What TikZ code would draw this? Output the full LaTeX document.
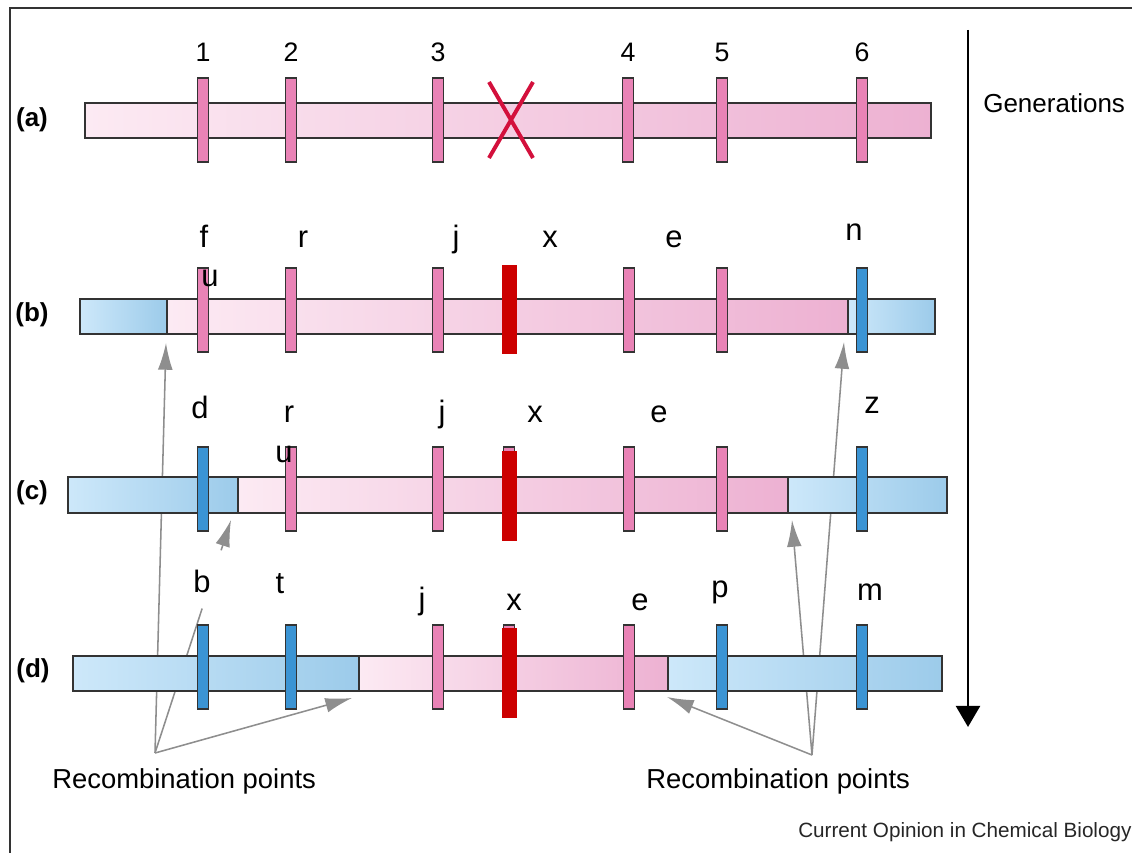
\documentclass[tikz,border=0pt]{standalone}
\usepackage{fontspec}
\setmainfont{Liberation Sans}
\usepackage{xcolor}
\usetikzlibrary{arrows.meta,calc}

\definecolor{pinklt}{HTML}{FCEAF3}
\definecolor{pinkdk}{HTML}{EDB1D2}
\definecolor{bluelt}{HTML}{CDE8FA}
\definecolor{bluedk}{HTML}{9CCBEA}
\definecolor{mkpink}{HTML}{E983B6}
\definecolor{mkblue}{HTML}{3B94D4}
\definecolor{xred}{HTML}{CC0000}
\definecolor{crossred}{HTML}{D3103C}
\definecolor{recgray}{HTML}{8E8E8E}

\tikzstyle{pinkbar}  =[draw=black!80, line width=1pt, left color=pinklt, right color=pinkdk]
\tikzstyle{bluebar}  =[draw=black!80, line width=1pt, left color=bluelt, right color=bluedk]
\tikzstyle{pinkmark} =[draw=black!80, line width=0.9pt, fill=mkpink]
\tikzstyle{bluemark} =[draw=black!80, line width=0.9pt, fill=mkblue]
\tikzstyle{locus}    =[anchor=base, inner sep=0pt, font=\fontsize{22}{22}\selectfont]
\tikzstyle{siteno}   =[anchor=base, inner sep=0pt, font=\fontsize{19}{19}\selectfont]
\tikzstyle{rowlab}   =[inner sep=0pt, font=\fontsize{18.5}{18.5}\selectfont\bfseries]
\tikzstyle{caption}  =[anchor=base west, inner sep=0pt, font=\fontsize{19.5}{19.5}\selectfont]
\tikzstyle{recline}  =[draw=recgray, line width=1.1pt]
\tikzstyle{rec}      =[recline, -{Latex[length=19pt,width=10.5pt]}]

\begin{document}
\begin{tikzpicture}[x=0.025cm, y=-0.025cm]

  \useasboundingbox (0,0) rectangle (1132,853);

  % ── frame ──────────────────────────────────────────────────────────────────
  \draw[line width=1.4pt, black!80] (1132,8) -- (10,8) -- (10,853);

  % ── recombination pointers (drawn first, bars hide them) ───────────────────
  \coordinate (lapex) at (155,753);
  \coordinate (lb)    at (166,343);
  \coordinate (lc)    at (231,520);
  \coordinate (ld)    at (352,698);
  \coordinate (rapex) at (812,755);
  \coordinate (rb)    at (844,342);
  \coordinate (rc)    at (792,520);
  \coordinate (rd)    at (667,697);

  \draw[rec] (lapex) -- (lb);
  \draw[recline] (lapex) -- ($(lapex)!0.62!(lc)$);
  \draw[rec] ($(lapex)!0.87!(lc)$) -- (lc);
  \draw[rec] (lapex) -- (ld);
  \draw[rec] (rapex) -- (rb);
  \draw[rec] (rapex) -- (rc);
  \draw[rec] (rapex) -- (rd);

  % ── (a) ancestral chromosome ───────────────────────────────────────────────
  \draw[pinkbar] (85,103) rectangle (931,138);
  \foreach \px/\no in {203/1, 291/2, 438/3, 628/4, 722/5, 862/6} {
    \draw[pinkmark] (\px-5.8,78) rectangle (\px+5.8,162);
    \node[siteno] (site\no) at (\px,62) {\no};
  }
  \draw[crossred, line width=2.8pt] (489,82) -- (533,158) (533,82) -- (489,158);

  % ── (b) ────────────────────────────────────────────────────────────────────
  \draw[bluebar] (80,299) rectangle (167,334);
  \draw[pinkbar] (167,299) rectangle (848,334);
  \draw[bluebar] (848,299) rectangle (935,334);
  \foreach \px/\st in {203/pinkmark, 291/pinkmark, 438/pinkmark, 509/pinkmark,
                       629/pinkmark, 722/pinkmark, 862/bluemark}
    \draw[\st] (\px-5.8,268) rectangle (\px+5.8,352);
  \fill[xred] (502,265) rectangle (517,354);

  % ── (c) ────────────────────────────────────────────────────────────────────
  \draw[bluebar] (68,477) rectangle (238,513);
  \draw[pinkbar] (238,477) rectangle (788,513);
  \draw[bluebar] (788,477) rectangle (947,513);
  \foreach \px/\st in {203/bluemark, 291/pinkmark, 438/pinkmark, 509/pinkmark,
                       629/pinkmark, 722/pinkmark, 862/bluemark}
    \draw[\st] (\px-5.8,447) rectangle (\px+5.8,531);
  \fill[xred] (502,451) rectangle (517,541);

  % ── (d) ────────────────────────────────────────────────────────────────────
  \draw[bluebar] (73,656) rectangle (359,691);
  \draw[pinkbar] (359,656) rectangle (668,691);
  \draw[bluebar] (668,656) rectangle (942,691);
  \foreach \px/\st in {203/bluemark, 291/bluemark, 438/pinkmark, 509/pinkmark,
                       629/pinkmark, 722/bluemark, 862/bluemark}
    \draw[\st] (\px-5.8,625) rectangle (\px+5.8,709);
  \fill[xred] (502,628) rectangle (517,718);

  % ── locus letters ──────────────────────────────────────────────────────────
  \foreach \px/\py/\txt [count=\i] in {204/248/f, 210/287/u, 303/248/r, 456/248/j,
                                      550/248/x, 674/248/e, 854/241/n}
    \node[locus] (lb\i) at (\px,\py) {\txt};
  \foreach \px/\py/\txt [count=\i] in {200/418/d, 289/422/r, 284/462/u, 442/422/j,
                                      535/423/x, 659/423/e, 872/413/z}
    \node[locus] (lc\i) at (\px,\py) {\txt};
  \foreach \px/\py/\txt [count=\i] in {202/592/b, 280/593/t, 422/609/j, 514/610/x,
                                      640/610/e, 720/597/p, 870/600/m}
    \node[locus] (ld\i) at (\px,\py) {\txt};

  % ── row tags ───────────────────────────────────────────────────────────────
  \node[rowlab] (taga) at (32,120) {(a)};
  \node[rowlab] (tagb) at (32,315) {(b)};
  \node[rowlab] (tagc) at (32,493) {(c)};
  \node[rowlab] (tagd) at (33,671) {(d)};

  % ── generations axis ───────────────────────────────────────────────────────
  \coordinate (gtop) at (968,30);
  \coordinate (gbot) at (968,727);
  \draw[line width=2pt, -{Triangle[length=15pt,width=17pt]}] (gtop) -- (gbot);
  \node[caption, font=\fontsize{18.5}{18.5}\selectfont] (gen) at (983,113) {Generations};

  % ── captions ───────────────────────────────────────────────────────────────
  \node[caption] (recl) at (52,788)  {Recombination points};
  \node[caption] (recr) at (646,788) {Recombination points};
  \node[caption, font=\fontsize{14.7}{14.7}\selectfont, text=black!85] (src) at (798,837)
    {Current Opinion in Chemical Biology};

\end{tikzpicture}
\end{document}
